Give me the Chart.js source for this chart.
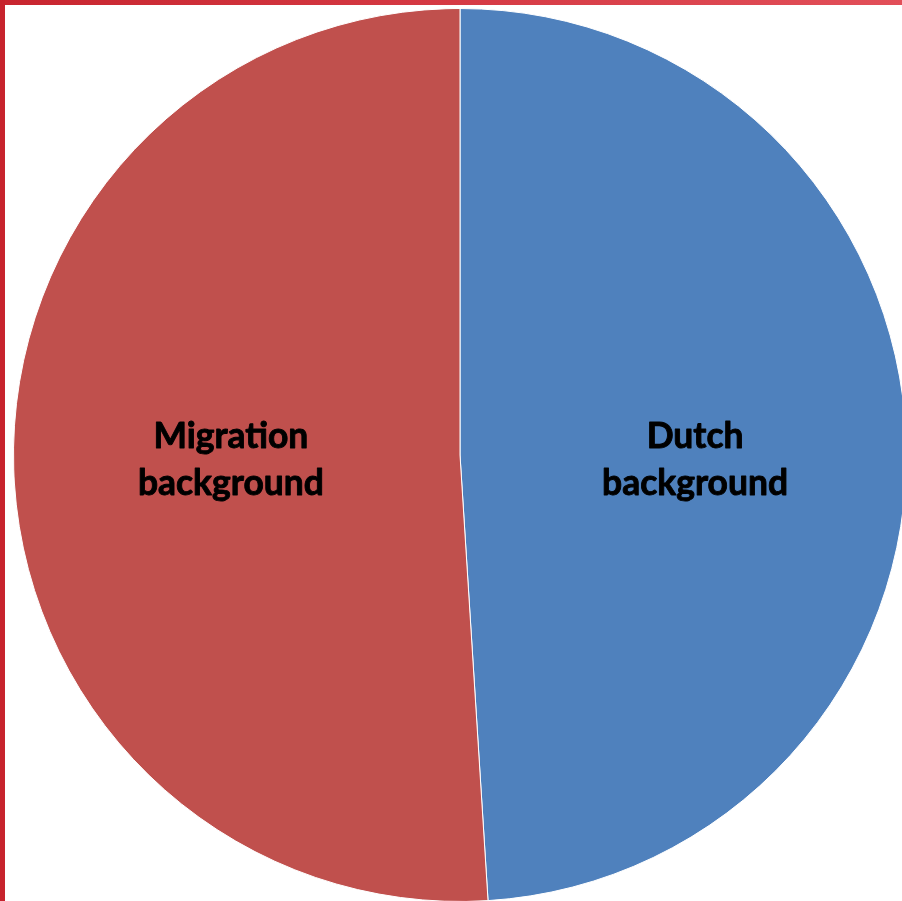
<!DOCTYPE html>
<html>
<head>
<meta charset="utf-8">
<script src="https://cdn.jsdelivr.net/npm/chart.js@4/dist/chart.umd.min.js"></script>
<style>
  html, body { margin: 0; padding: 0; width: 902px; height: 901px; overflow: hidden; background: #fff; }
  #frameTop { position: absolute; left: 0; top: 0; width: 902px; height: 5px; background: linear-gradient(to right, #c8252f, #e24f59); z-index: 2; }
  #frameLeft { position: absolute; left: 0; top: 0; width: 5px; height: 901px; background: #c7232d; z-index: 2; }
  #wrap { position: absolute; left: 13px; top: 8px; width: 894px; height: 894px; }
</style>
</head>
<body>
<div id="frameTop"></div>
<div id="frameLeft"></div>
<div id="wrap"><canvas id="pieChart"></canvas></div>
<script>
const categories = ['Dutch background', 'Migration background'];
const shares = [49, 51];
const labelLines = [['Dutch', 'background'], ['Migration', 'background']];
const sliceColors = ['#4f81bd', '#c0504d'];

// labels inside the slices, Excel style (two lines, bold black)
const sliceLabels = {
	id: 'sliceLabels',
	afterDatasetsDraw(chart) {
		const ctx = chart.ctx;
		const meta = chart.getDatasetMeta(0);
		ctx.save();
		ctx.font = 'bold 32px Lato';
		const fs = 32 * 186 / ctx.measureText('background').width;
		ctx.font = `bold ${fs}px Lato`;
		ctx.fillStyle = '#000';
		ctx.strokeStyle = '#000';
		ctx.lineWidth = 0.9;
		ctx.lineJoin = 'round';
		ctx.textAlign = 'center';
		ctx.textBaseline = 'alphabetic';
		meta.data.forEach((arc, i) => {
			const p = arc.getProps(['x', 'y', 'startAngle', 'endAngle', 'outerRadius'], true);
			const mid = (p.startAngle + p.endAngle) / 2;
			const px = p.x + Math.cos(mid) * p.outerRadius * 0.52 + 3;
			const py = p.y + 5;
			const lines = labelLines[i];
			[[lines[0], py - 12], [lines[1], py + 35]].forEach(([t, ty]) => {
				ctx.fillText(t, px, ty);
				ctx.strokeText(t, px, ty);
			});
		});
		ctx.restore();
	}
};

new Chart(document.getElementById('pieChart'), {
	type: 'pie',
	data: {
		labels: categories,
		datasets: [{ data: shares, backgroundColor: sliceColors, borderColor: '#ffffff', borderWidth: 1 }]
	},
	options: {
		responsive: true,
		maintainAspectRatio: false,
		animation: false,
		layout: { padding: 0 },
		plugins: { legend: { display: false }, tooltip: { enabled: false } }
	},
	plugins: [sliceLabels]
});
</script>
</body>
</html>
